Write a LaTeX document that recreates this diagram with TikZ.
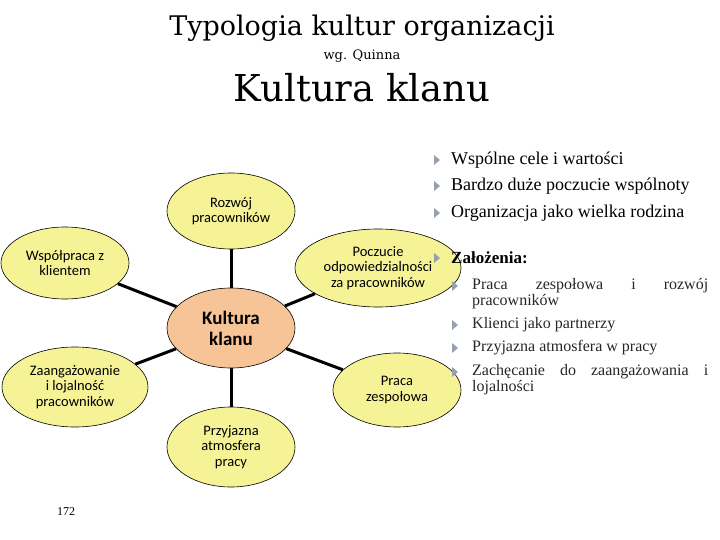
\documentclass[tikz,border=0pt]{standalone}
\usepackage{fontspec}
\setmainfont{Liberation Serif}
\newfontfamily\nodefont{Carlito}
\newfontfamily\titlefont{DejaVu Serif}
\usetikzlibrary{shapes.geometric}
\definecolor{ellfill}{RGB}{246,242,150}
\definecolor{centfill}{RGB}{246,196,150}
\definecolor{bulgray}{RGB}{150,160,175}
\begin{document}
\begin{tikzpicture}[x=1pt,y=-1pt,
  ell/.style={ellipse,draw=black,line width=0.6pt,fill=ellfill,inner sep=0pt,align=center,font=\nodefont\fontsize{14.5}{15.5}\selectfont},
  conn/.style={line width=3pt},
  txt/.style={anchor=west,inner sep=0pt},
  jus/.style={anchor=north west,inner sep=0pt,text width=236pt,align=justify,font=\fontsize{16}{16}\selectfont,text=black!85}]
\useasboundingbox (0,0) rectangle (720,540);
\node[inner sep=0pt] (t1) at (362,28) {\titlefont\fontsize{27}{27}\selectfont Typologia kultur organizacji};
\node[inner sep=0pt] (t2) at (362,56) {\titlefont\fontsize{13}{13}\selectfont wg. Quinna};
\node[inner sep=0pt] (t3) at (362,88) {\titlefont\fontsize{37}{37}\selectfont Kultura klanu};
% ellipses
\node[ell,fill=centfill,minimum width=128pt,minimum height=80pt,font=\nodefont\bfseries\fontsize{19}{21}\selectfont] (c) at (231,328) {Kultura\\klanu};
\node[ell,minimum width=128pt,minimum height=76pt] (r) at (231,211) {Rozwój\\pracowników};
\node[ell,minimum width=128pt,minimum height=72pt] (w) at (65,263) {Współpraca z\\klientem};
\node[ell,minimum width=146pt,minimum height=80pt] (z) at (75,387) {Zaangażowanie\\i lojalność\\pracowników};
\node[ell,minimum width=128pt,minimum height=80pt] (p) at (231,447) {Przyjazna\\atmosfera\\pracy};
\node[ell,minimum width=128pt,minimum height=74pt] (pz) at (397,390) {Praca\\zespołowa};
\node[ell,minimum width=166pt,minimum height=78pt] (po) at (378,268) {Poczucie\\odpowiedzialności\\za pracowników};
\draw[conn] (c) -- (r);
\draw[conn] (c) -- (w);
\draw[conn] (c) -- (z);
\draw[conn] (c) -- (p);
\draw[conn] (c) -- (pz);
\draw[conn] (c) -- (po);
\node[inner sep=0pt] (num) at (66,512) {\fontsize{12}{12}\selectfont 172};
% bullets
\foreach \y/\t [count=\i] in {160/Wspólne cele i wartości,186/Bardzo duże poczucie wspólnoty,213/Organizacja jako wielka rodzina}{
  \fill[bulgray] (434,\y-5) -- (440,\y) -- (434,\y+5) -- cycle;
  \node[txt] (b\i) at (451,\y) {\fontsize{18}{18}\selectfont \t};
}
\fill[bulgray] (434,253) -- (440,258) -- (434,263) -- cycle;
\node[txt] (zal) at (451,258) {\fontsize{17}{17}\selectfont\bfseries Założenia:};
\foreach \y in {286,325,348,372}{\fill[bulgray] (452,\y-5) -- (458,\y) -- (452,\y+5) -- cycle;}
\node[jus] (s1) at (472,278) {\hyphenpenalty=10000\relax Praca zespołowa i rozwój\linebreak pracowników};
\node[txt,text=black!85] (s2) at (472,325) {\fontsize{16}{16}\selectfont Klienci jako partnerzy};
\node[txt,text=black!85] (s3) at (472,348) {\fontsize{16}{16}\selectfont Przyjazna atmosfera w pracy};
\node[jus] (s4) at (472,364) {\hyphenpenalty=10000\relax Zachęcanie do zaangażowania i\linebreak lojalności};
\end{tikzpicture}
\end{document}
